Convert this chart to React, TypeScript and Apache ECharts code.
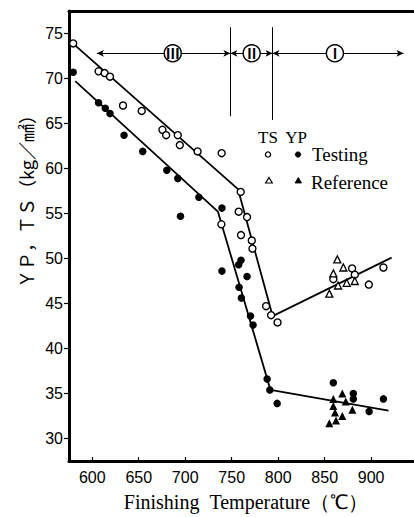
import React, { useEffect, useRef } from "react";
import * as echarts from "echarts";

const xTicks = [600, 650, 700, 750, 800, 850, 900];
const yTicks = [30, 35, 40, 45, 50, 55, 60, 65, 70, 75];

// TS (open circles) — Testing
const tsTesting: number[][] = [
  [579.5, 73.9], [606.8, 70.8], [613.3, 70.6], [619.1, 70.2], [633.1, 67.0],
  [653.2, 66.4], [675.5, 64.3], [679.5, 63.7], [692, 63.7], [694.2, 62.6],
  [713.3, 61.9], [739.2, 61.7], [738.9, 53.8], [759.7, 57.4], [757.5, 55.2],
  [766.5, 54.6], [760, 52.6], [771.6, 52.0], [772.3, 51.1], [787, 44.7],
  [792.4, 43.7], [799.3, 42.9], [859.3, 47.7], [879.5, 48.9], [882.4, 48.2],
  [897.5, 47.1], [913.2, 49.0],
];
// TS (open triangles) — Reference
const tsReference: number[][] = [
  [863.6, 49.9], [870.1, 49.0], [859.3, 48.35], [882.4, 47.5], [873.7, 47.3],
  [864.4, 47.0], [855, 46.1],
];
// YP (filled circles) — Testing
const ypTesting: number[][] = [
  [579.5, 70.7], [606.8, 67.3], [614, 66.7], [619.1, 66.1], [634.2, 63.7],
  [654.3, 61.9], [680.2, 59.8], [692, 58.9], [694.9, 54.7], [714.7, 56.8],
  [739.5, 55.6], [739.5, 48.6], [760, 49.8], [757.5, 49.3], [766.5, 48.0],
  [757.9, 46.8], [760.4, 45.6], [770.2, 43.6], [773, 42.6], [788.1, 36.6],
  [791, 35.4], [798.9, 33.9], [859.3, 36.2], [880.8, 35.0], [880.8, 34.4],
  [913.2, 34.4], [897.8, 33.0],
];
// YP (filled triangles) — Reference
const ypReference: number[][] = [
  [869, 35.0], [859.3, 34.4], [872.7, 34.1], [859.3, 33.6], [879.8, 33.2],
  [861.1, 32.9], [869, 32.5], [862.2, 32.0], [855, 31.7],
];
// fitted broken lines
const tsFit: number[][] = [[577, 74.1], [756.8, 57.7], [794, 43.6], [922, 50.1]];
const ypFit: number[][] = [[581.7, 69.7], [735.2, 55.2], [791.7, 35.4], [918.6, 33.1]];

// zone annotation
const zoneBounds = [748.6, 793.9];
const zoneBoundTop = 75.7;
const zoneBoundBottom = [65.8, 65.4];
const zoneArrowY = 72.8;
const zoneArrowEnds = [605, 934.8];
const zoneLabels = [
  { name: "Ⅲ", x: 686.6 },
  { name: "Ⅱ", x: 771.5 },
  { name: "Ⅰ", x: 861 },
];

const SERIF = "'Liberation Serif', 'Times New Roman', serif";
const SANS = "'Liberation Sans', Arial, sans-serif";
const CJK = "'Noto Sans CJK JP', 'Noto Sans', sans-serif";

export default function App() {
  const ref = useRef<HTMLDivElement>(null);
  useEffect(() => {
    const chart = echarts.init(ref.current!, null, { renderer: "svg" });
    const arrowSegs = [
      [zoneArrowEnds[0], zoneBounds[0]],
      [zoneBounds[0], zoneBounds[1]],
      [zoneBounds[1], zoneArrowEnds[1]],
    ];
    const markLineData: any[] = [
      ...arrowSegs.map(([a, b]) => [
        { coord: [a, zoneArrowY], symbol: "arrow" },
        { coord: [b, zoneArrowY], symbol: "arrow" },
      ]),
      ...zoneBounds.map((x, i) => [
        { coord: [x, zoneBoundTop], symbol: "none" },
        { coord: [x, zoneBoundBottom[i]], symbol: "none" },
      ]),
    ];
    const option: any = {
      animation: false,
      backgroundColor: "#fff",
      grid: { left: 69, right: 1, top: 11, bottom: 55, containLabel: false },
      xAxis: [
        {
          type: "value",
          min: 575,
          max: 945,
          position: "bottom",
          name: "Finishing\u2002Temperature（℃）",
          nameLocation: "middle",
          nameGap: 31,
          nameTextStyle: { fontFamily: SERIF, fontSize: 20, color: "#000", padding: [0, 0, 0, 10] },
          axisLine: { show: true, onZero: false, lineStyle: { color: "#000", width: 3 } },
          axisTick: { show: true, inside: true, length: 4, customValues: xTicks, lineStyle: { color: "#000", width: 1.2 } },
          axisLabel: { customValues: xTicks, fontFamily: SANS, fontSize: 16, color: "#000", margin: 8 },
          splitLine: { show: false },
        },
        {
          type: "value",
          min: 575,
          max: 945,
          position: "top",
          axisLine: { show: true, onZero: false, lineStyle: { color: "#000", width: 3 } },
          axisTick: { show: false },
          axisLabel: { show: false },
          splitLine: { show: false },
        },
      ],
      yAxis: {
        type: "value",
        min: 27.5,
        max: 77.5,
        axisLine: { show: true, onZero: false, lineStyle: { color: "#000", width: 3 } },
        axisTick: { show: true, inside: false, length: 5, customValues: yTicks, lineStyle: { color: "#000", width: 1.2 } },
        axisLabel: { customValues: yTicks, fontFamily: SANS, fontSize: 16, color: "#000", margin: 6 },
        splitLine: { show: false },
      },
      graphic: [
        {
          type: "text",
          x: 26,
          y: 197,
          rotation: Math.PI / 2,
          style: { text: "ＹＰ，ＴＳ（kg／㎟）", fontSize: 18, fontFamily: CJK, fill: "#000", align: "center", verticalAlign: "middle" },
        },
        { type: "text", x: 268, y: 137, style: { text: "TS", fontSize: 17, fontFamily: SERIF, fill: "#000", align: "center", verticalAlign: "middle" } },
        { type: "text", x: 296, y: 137, style: { text: "YP", fontSize: 17, fontFamily: SERIF, fill: "#000", align: "center", verticalAlign: "middle" } },
        { type: "circle", shape: { cx: 268, cy: 154.5, r: 2.6 }, style: { fill: "#fff", stroke: "#000", lineWidth: 1.3 } },
        { type: "circle", shape: { cx: 298, cy: 154.5, r: 2.8 }, style: { fill: "#000", stroke: "#000", lineWidth: 0.5 } },
        { type: "text", x: 312, y: 154, style: { text: "Testing", fontSize: 19, fontFamily: SERIF, fill: "#000", align: "left", verticalAlign: "middle" } },
        { type: "polygon", shape: { points: [[269, 177.5], [272.3, 183], [265.7, 183]] }, style: { fill: "#fff", stroke: "#000", lineWidth: 1.2 } },
        { type: "polygon", shape: { points: [[298.3, 177.5], [301.6, 183], [295, 183]] }, style: { fill: "#000", stroke: "#000", lineWidth: 0.8 } },
        { type: "text", x: 311, y: 182, style: { text: "Reference", fontSize: 19, fontFamily: SERIF, fill: "#000", align: "left", verticalAlign: "middle" } },
      ],
      series: [
        {
          type: "line",
          data: tsFit,
          showSymbol: false,
          symbol: "none",
          lineStyle: { color: "#000", width: 1.8 },
          silent: true,
          z: 2,
        },
        {
          type: "line",
          data: ypFit,
          showSymbol: false,
          symbol: "none",
          lineStyle: { color: "#000", width: 1.8 },
          silent: true,
          z: 2,
        },
        {
          type: "scatter",
          data: tsTesting,
          symbol: "circle",
          symbolSize: 7,
          itemStyle: { color: "#fff", borderColor: "#000", borderWidth: 1.4, opacity: 1 },
          z: 3,
        },
        {
          type: "scatter",
          data: tsReference,
          symbol: "triangle",
          symbolSize: 7,
          itemStyle: { color: "#fff", borderColor: "#000", borderWidth: 1.3, opacity: 1 },
          z: 3,
        },
        {
          type: "scatter",
          data: ypTesting,
          symbol: "circle",
          symbolSize: 7.5,
          itemStyle: { color: "#000", opacity: 1 },
          z: 3,
        },
        {
          type: "scatter",
          data: ypReference,
          symbol: "triangle",
          symbolSize: 8,
          itemStyle: { color: "#000", opacity: 1 },
          z: 3,
        },
        {
          type: "line",
          data: [],
          silent: true,
          z: 4,
          markLine: {
            silent: true,
            symbol: ["arrow", "arrow"],
            symbolSize: [5, 7],
            label: { show: false },
            lineStyle: { color: "#000", width: 1, type: "solid" },
            emphasis: { disabled: true },
            data: markLineData,
          },
        },
        {
          type: "scatter",
          data: [],
          silent: true,
          z: 5,
          markPoint: {
            silent: true,
            symbol: "circle",
            symbolSize: 17,
            itemStyle: { color: "#fff", borderColor: "#000", borderWidth: 1.4 },
            label: { show: true, position: "inside", formatter: "{b}", color: "#000", fontSize: 14, fontFamily: CJK, fontWeight: "bold" },
            data: zoneLabels.map((z) => ({ name: z.name, coord: [z.x, zoneArrowY] })),
          },
        },
      ],
    };
    chart.setOption(option);
    return () => chart.dispose();
  }, []);
  return <div ref={ref} style={{ position: "absolute", left: 0, top: 0, width: 414, height: 517 }} />;
}
